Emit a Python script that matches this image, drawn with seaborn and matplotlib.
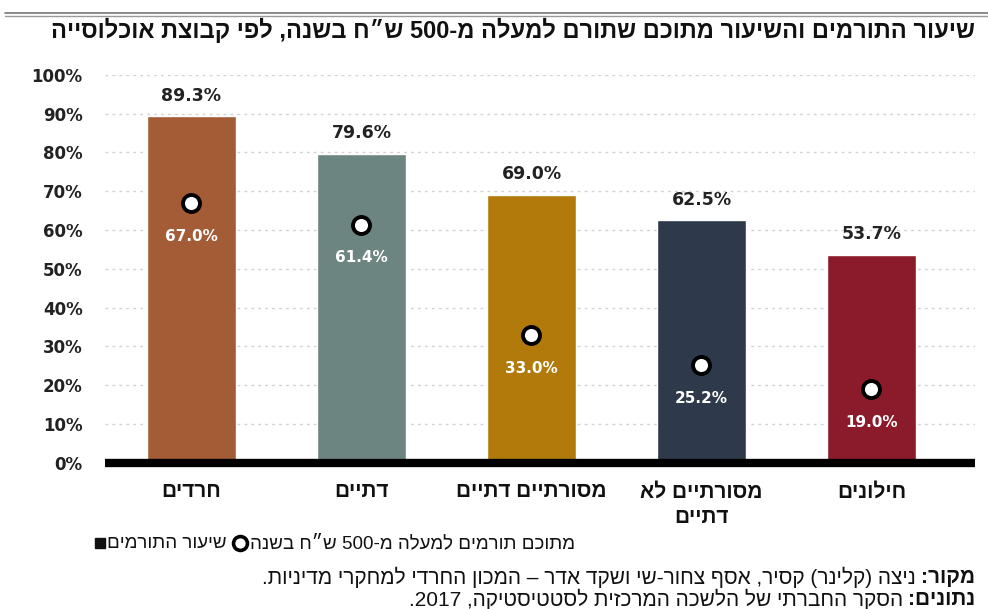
import re
import matplotlib
matplotlib.use("Agg")
import matplotlib.pyplot as plt
from matplotlib.lines import Line2D
import seaborn as sns

# -------------------------------------------------------
# data
# -------------------------------------------------------

groups      = ["חרדים", "דתיים", "מסורתיים דתיים", "מסורתיים לא\nדתיים", "חילונים"]
donor_rate  = [89.3, 79.6, 69.0, 62.5, 53.7]
over_500    = [67.0, 61.4, 33.0, 25.2, 19.0]
bar_colors  = ["#A35C36", "#6D8580", "#B27A0A", "#2E3A4B", "#8B1A2B"]
y_ticks     = [0, 10, 20, 30, 40, 50, 60, 70, 80, 90, 100]

title       = "שיעור התורמים והשיעור מתוכם שתורם למעלה מ-500 ש״ח בשנה, לפי קבוצת אוכלוסייה"
legend_bar  = "שיעור התורמים"
legend_dot  = "מתוכם תורמים למעלה מ-500 ש״ח בשנה"
src_head    = "מקור:"
src_body    = "ניצה (קלינר) קסיר, אסף צחור-שי ושקד אדר – המכון החרדי למחקרי מדיניות."
data_head   = "נתונים:"
data_body   = "הסקר החברתי של הלשכה המרכזית לסטטיסטיקה, 2017."

HEB = ["Liberation Sans Narrow", "Liberation Sans", "DejaVu Sans"]


# matplotlib has no bidi support, so flip hebrew into visual order by hand
def rtl(s):
    lines = []
    for line in s.split("\n"):
        r = "".join({"(": ")", ")": "("}.get(c, c) for c in line[::-1])
        r = re.sub(r"[0-9][0-9.,]*[0-9]|[0-9]", lambda m: m.group(0)[::-1], r)
        lines.append(r)
    return "\n".join(lines)


sns.set_theme(style="white")
plt.rcParams["font.family"] = ["DejaVu Sans"]

fig = plt.figure(figsize=(9.88, 6.09), dpi=100)
ax = fig.add_axes([0.106, 0.240, 0.881, 0.637])

labels = [rtl(g) for g in groups]

sns.barplot(x=labels, y=donor_rate, hue=labels, palette=bar_colors,
            legend=False, width=0.52, saturation=1, ax=ax, zorder=2)
sns.scatterplot(x=labels, y=over_500, s=150, color="white", edgecolor="black",
                linewidth=2.8, ax=ax, zorder=4)

for i, (v, s) in enumerate(zip(donor_rate, over_500)):
    ax.annotate(f"{v:.1f}%", (i, v), xytext=(0, 15), textcoords="offset points",
                ha="center", va="center", fontsize=12.5, fontweight="bold",
                color="#222222")
    ax.annotate(f"{s:.1f}%", (i, s), xytext=(0, -24), textcoords="offset points",
                ha="center", va="center", fontsize=11, fontweight="bold",
                color="white", zorder=5)

ax.set_ylim(0, 100)
ax.set_xlim(-0.51, 4.61)
ax.set_yticks(y_ticks)
ax.set_yticklabels([f"{t}%" for t in y_ticks], fontsize=12, fontweight="bold",
                   color="#222222")
for t in y_ticks[1:]:
    ax.axhline(t, color="#d2d2d2", lw=1, ls=(0, (2, 3)), zorder=1)
ax.axhline(0, color="black", lw=6, zorder=3, clip_on=False, solid_capstyle="butt")

ax.tick_params(axis="y", length=0, pad=16)
ax.tick_params(axis="x", length=0, pad=14)
for lab in ax.get_xticklabels():
    lab.set_family(HEB)
    lab.set_fontweight("bold")
    lab.set_fontsize(15)
    lab.set_color("#111111")
    lab.set_linespacing(1.45)
ax.set_xlabel("")
sns.despine(ax=ax, left=True, bottom=True)

# title and the double rule above it
fig.add_artist(Line2D([0.005, 1.0], [0.979, 0.979], color="#777777", lw=1.2))
fig.add_artist(Line2D([0.005, 1.0], [0.974, 0.974], color="#999999", lw=1.0))
fig.text(0.987, 0.950, rtl(title), ha="right", va="center", family=HEB,
         fontsize=17, fontweight="bold", color="#111111")

renderer = fig.canvas.get_renderer()
inv = fig.transFigure.inverted()


def left_edge(txt):
    bb = txt.get_window_extent(renderer=renderer)
    return inv.transform((bb.x0, bb.y0))[0]


# legend (right to left: dot label, dot, bar label, square)
ly = 0.108
t = fig.text(0.582, ly, rtl(legend_dot), ha="right", va="center", family=HEB,
             fontsize=13.5, color="#111111")
x = left_edge(t) - 0.010
fig.add_artist(Line2D([x], [ly], marker="o", ms=10, mfc="white", mec="black",
                      mew=2.6, transform=fig.transFigure))
t = fig.text(x - 0.014, ly, rtl(legend_bar), ha="right", va="center", family=HEB,
             fontsize=13.5, color="#111111")
x = left_edge(t) - 0.007
fig.add_artist(Line2D([x], [ly], marker="s", ms=6.5, mfc="#111111", mec="#111111",
                      transform=fig.transFigure))

# source lines
for y, head, body in [(0.052, src_head, src_body), (0.015, data_head, data_body)]:
    t = fig.text(0.987, y, rtl(head), ha="right", va="center", family=HEB,
                 fontsize=15, fontweight="bold", color="#111111")
    fig.text(left_edge(t) - 0.005, y, rtl(body), ha="right", va="center",
             family=HEB, fontsize=15, color="#111111")

fig.savefig("out.png", dpi=100, facecolor="white")
